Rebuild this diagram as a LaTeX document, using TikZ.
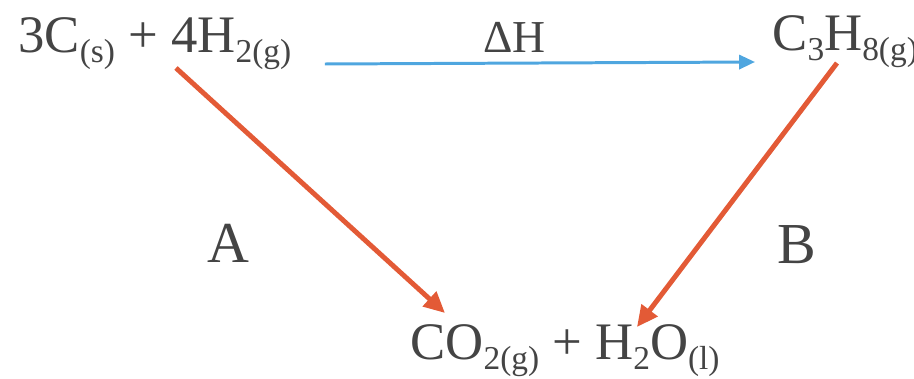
\documentclass[tikz,border=0pt]{standalone}
\usepackage{fontspec}
\setmainfont{Liberation Serif}
\usetikzlibrary{arrows.meta}
\definecolor{txtgrey}{HTML}{444444}
\definecolor{arrred}{HTML}{E35A36}
\definecolor{arrblue}{HTML}{4FA6DF}
\newcommand{\sbs}[1]{\raisebox{-0.2em}{\fontsize{19}{19}\selectfont #1}}

\begin{document}
\begin{tikzpicture}[x=0.02cm, y=-0.02cm,
  chem/.style={inner sep=0pt, anchor=base west, text=txtgrey, font=\fontsize{30}{36}\selectfont},
  lbl/.style={chem, font=\fontsize{33}{40}\selectfont},
  redarr/.style={draw=arrred, line width=2.8pt, -{Triangle[length=12pt,width=11pt]},
    preaction={draw=black, opacity=0.18, transform canvas={shift={(0.8pt,-0.8pt)}}}},
  bluearr/.style={draw=arrblue, line width=1.7pt, -{Triangle[length=9pt,width=8pt]}}]
  \useasboundingbox (0,0) rectangle (914,379);
  \node[chem] (reac) at (18,52) {3C\sbs{(s)} + 4H\sbs{2(g)}};
  \node[chem] (prod) at (772,50) {C\sbs{3}H\sbs{8(g)}};
  \node[chem] (comb) at (410,359) {CO\sbs{2(g)} + H\sbs{2}O\sbs{(l)}};
  \node[chem, font=\fontsize{26}{30}\selectfont] (dH) at (483,52) {ΔH};
  \node[lbl] (A) at (207,262) {A};
  \node[lbl] (B) at (777,263) {B};
  \draw[bluearr] ([xshift=6.14cm, yshift=-0.24cm]reac.base west) -- ([xshift=-0.34cm, yshift=-0.24cm]prod.base west);
  \draw[redarr] ([xshift=3.16cm, yshift=-0.32cm]reac.base west) -- ([xshift=0.7cm, yshift=0.92cm]comb.base west);
  \draw[redarr] ([xshift=1.3cm, yshift=-0.26cm]prod.base west) -- ([xshift=4.54cm, yshift=0.64cm]comb.base west);
\end{tikzpicture}
\end{document}
